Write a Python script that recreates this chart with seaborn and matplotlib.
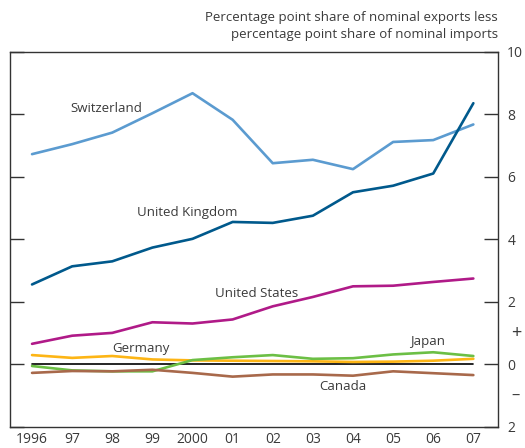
import numpy as np
import pandas as pd
import matplotlib
matplotlib.use("Agg")
import seaborn as sns
import matplotlib.pyplot as plt

years = list(range(1996, 2008))
year_labels = ["1996", "97", "98", "99", "2000", "01", "02", "03", "04", "05", "06", "07"]

switzerland = [6.73, 7.05, 7.42, 8.04, 8.68, 7.83, 6.44, 6.55, 6.25, 7.12, 7.18, 7.68]
united_kingdom = [2.56, 3.14, 3.30, 3.74, 4.02, 4.56, 4.53, 4.76, 5.51, 5.72, 6.11, 8.36]
united_states = [0.66, 0.92, 1.01, 1.35, 1.31, 1.44, 1.86, 2.16, 2.50, 2.52, 2.64, 2.75]
germany = [0.30, 0.21, 0.27, 0.16, 0.13, 0.12, 0.11, 0.10, 0.08, 0.09, 0.12, 0.18]
japan = [-0.05, -0.19, -0.22, -0.22, 0.14, 0.23, 0.30, 0.18, 0.20, 0.32, 0.39, 0.27]
canada = [-0.27, -0.21, -0.22, -0.17, -0.27, -0.39, -0.32, -0.32, -0.36, -0.22, -0.28, -0.34]

series = {
    "Switzerland": switzerland,
    "United Kingdom": united_kingdom,
    "United States": united_states,
    "Germany": germany,
    "Japan": japan,
    "Canada": canada,
}
colours = {
    "Switzerland": "#5b9bd0",
    "United Kingdom": "#00598c",
    "United States": "#b01a88",
    "Germany": "#fdb515",
    "Japan": "#6cbf45",
    "Canada": "#a8694b",
}
# label positions (year, value)
label_pos = {
    "Switzerland": (1997.85, 8.19),
    "United Kingdom": (1999.87, 4.87),
    "United States": (2001.6, 2.26),
    "Germany": (1998.71, 0.52),
    "Japan": (2005.85, 0.72),
    "Canada": (2003.76, -0.69),
}

df = pd.DataFrame(
    [(c, y, v) for c, vals in series.items() for y, v in zip(years, vals)],
    columns=["country", "year", "value"],
)

sns.set_theme(style="white")
plt.rcParams["font.family"] = ["Open Sans", "DejaVu Sans"]
text_col = "#3a3a3a"

fig = plt.figure(figsize=(5.25, 4.48), dpi=100)
ax = fig.add_axes([0.019, 0.047, 0.930, 0.837])

ax.plot([years[0], years[-1]], [0, 0], color="black", lw=1.2, zorder=1)
sns.lineplot(data=df, x="year", y="value", hue="country", palette=colours,
             linewidth=1.9, legend=False, ax=ax, zorder=3)

for name, (x, y) in label_pos.items():
    ax.text(x, y, name, ha="center", va="center", fontsize=9.5, color=text_col)

ax.set_xlim(1995.45, 2007.62)
ax.set_ylim(-2, 10)
ax.set_xticks(years)
ax.set_xticklabels(year_labels)
ax.set_yticks([-2, 0, 2, 4, 6, 8, 10])
ax.set_yticklabels(["2", "0", "2", "4", "6", "8", "10"])
ax.yaxis.tick_right()
ax.tick_params(axis="y", which="both", direction="in", length=10, width=1,
               color="#333333", left=True, right=True, labelleft=False,
               labelright=True, pad=6.5, labelsize=10, labelcolor=text_col)
ax.tick_params(axis="x", direction="in", length=10, width=1, color="#333333",
               pad=4, labelsize=10, labelcolor=text_col)
ax.text(1.027, 3 / 12, "+", transform=ax.transAxes, ha="left",
        va="center", fontsize=13, color=text_col)
ax.text(1.027, 1 / 12, "\u2013", transform=ax.transAxes, ha="left",
        va="center", fontsize=12, color=text_col)
ax.set_xlabel("")
ax.set_ylabel("")
for s in ax.spines.values():
    s.set_color("#333333")
    s.set_linewidth(1)

fig.text(0.949, 0.975, "Percentage point share of nominal exports less\n"
         "percentage point share of nominal imports",
         ha="right", va="top", fontsize=9.5, color=text_col, linespacing=1.35)

fig.savefig("out.png", dpi=100)
